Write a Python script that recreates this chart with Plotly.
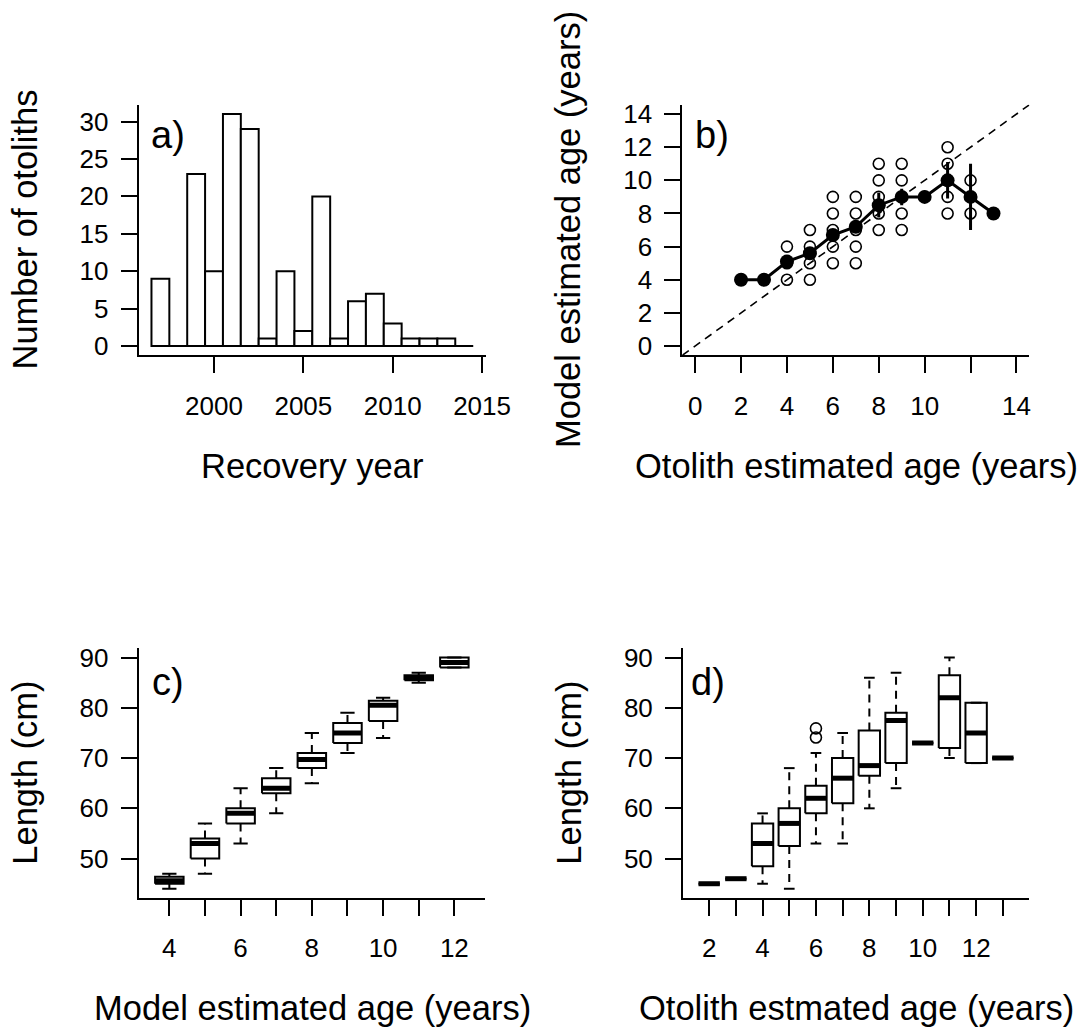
import plotly.graph_objects as go

W, H = 1081, 1028
FONT = "Liberation Sans, Arial, sans-serif"
TICK_SIZE = 26
TITLE_SIZE = 34.5
PANEL_SIZE = 38

# ---------------- a) recoveries per year ----------------
recovery_year = [1997, 1998, 1999, 2000, 2001, 2002, 2003, 2004, 2005,
                 2006, 2007, 2008, 2009, 2010, 2011, 2012, 2013, 2014]
otolith_count = [9, 0, 23, 10, 31, 29, 1, 10, 2, 20, 1, 6, 7, 3, 1, 1, 1, 0]

# ---------------- b) model vs otolith age ----------------
otolith_age = [2, 3, 4, 5, 6, 7, 8, 9, 10, 11, 12, 13]
model_mean = [4, 4, 5.1, 5.6, 6.7, 7.2, 8.5, 9, 9, 10, 9, 8]
model_err = [0, 0, 0.25, 0.3, 0.3, 0.35, 0.75, 0.5, 0, 1.1, 2.0, 0]
pair_otolith = [2, 3, 4, 4, 4, 5, 5, 5, 5, 6, 6, 6, 6, 6, 7, 7, 7, 7, 7,
                8, 8, 8, 8, 8, 9, 9, 9, 9, 9, 10, 11, 11, 11, 11, 11,
                12, 12, 12, 13]
pair_model = [4, 4, 4, 5, 6, 4, 5, 6, 7, 5, 6, 7, 8, 9, 5, 6, 7, 8, 9,
              7, 8, 9, 10, 11, 7, 8, 9, 10, 11, 9, 8, 9, 10, 11, 12,
              8, 9, 10, 8]

# ---------------- c) length by model age ----------------
c_age = [4, 5, 6, 7, 8, 9, 10, 11, 12]
c_lo = [44, 47, 53, 59, 65, 71, 74, 85, 88]
c_q1 = [45, 50, 57, 63, 68, 73, 77.4, 85.5, 88]
c_med = [45.6, 53, 59, 64, 69.7, 75, 80.5, 86, 89]
c_q3 = [46.4, 54, 60, 66, 71, 77, 81.4, 86.5, 90]
c_hi = [47, 57, 64, 68, 75, 79, 82, 87, 90]

# ---------------- d) length by otolith age ----------------
d_age = [2, 3, 4, 5, 6, 7, 8, 9, 10, 11, 12, 13]
d_lo = [45, 46, 45, 44, 53, 53, 60, 64, 73, 70, 69, 70]
d_q1 = [45, 46, 48.5, 52.5, 59, 61, 66.5, 69, 73, 72, 69, 70]
d_med = [45, 46, 53, 57, 62, 66, 68.5, 77.5, 73, 82, 75, 70]
d_q3 = [45, 46, 57, 60, 64.5, 70, 75.5, 79, 73, 86.5, 81, 70]
d_hi = [45, 46, 59, 68, 71, 75, 86, 87, 73, 90, 81, 70]
d_out_age = [6, 6]
d_out_len = [74.1, 75.9]


def px_x(p):
    return p / W


def px_y(p):
    return 1 - p / H


fig = go.Figure()

# ---- panel a: histogram as unit-width bars ----
fig.add_trace(go.Bar(
    x=recovery_year, y=otolith_count, width=1,
    marker=dict(color="white", line=dict(color="black", width=2)),
    xaxis="x", yaxis="y", showlegend=False))
fig.add_trace(go.Scatter(
    x=[recovery_year[0] - 0.5, recovery_year[-1] + 0.5], y=[0, 0],
    mode="lines", line=dict(color="black", width=2),
    xaxis="x", yaxis="y", showlegend=False))

# ---- panel b ----
b_range = [-0.56, 14.56]
fig.add_trace(go.Scatter(
    x=b_range, y=b_range, mode="lines",
    line=dict(color="black", width=1.6, dash="8px,6px"),
    xaxis="x2", yaxis="y2", showlegend=False))
fig.add_trace(go.Scatter(
    x=pair_otolith, y=pair_model, mode="markers",
    marker=dict(symbol="circle-open", size=11, color="black",
                line=dict(width=1.6, color="black")),
    xaxis="x2", yaxis="y2", showlegend=False))
fig.add_trace(go.Scatter(
    x=otolith_age, y=model_mean, mode="lines+markers",
    line=dict(color="black", width=3),
    marker=dict(symbol="circle", size=14, color="black"),
    error_y=dict(type="data", array=model_err, visible=True,
                 thickness=3, width=0, color="black"),
    xaxis="x2", yaxis="y2", showlegend=False))


# ---- boxplots drawn from summary statistics ----
def add_boxes(ages, lo, q1, med, q3, hi, xa, ya, half=0.4, staple=0.2):
    bx, by, mx, my, wx, wy, sx, sy = [], [], [], [], [], [], [], []
    for a, l, b1, m, b3, h in zip(ages, lo, q1, med, q3, hi):
        bx += [a - half, a + half, a + half, a - half, a - half, None]
        by += [b1, b1, b3, b3, b1, None]
        mx += [a - half, a + half, None]
        my += [m, m, None]
        wx += [a, a, None, a, a, None]
        wy += [b3, h, None, b1, l, None]
        sx += [a - staple, a + staple, None, a - staple, a + staple, None]
        sy += [h, h, None, l, l, None]
    common = dict(mode="lines", xaxis=xa, yaxis=ya, showlegend=False,
                  connectgaps=False)
    fig.add_trace(go.Scatter(x=wx, y=wy, line=dict(color="black", width=2,
                                                    dash="8px,6px"), **common))
    fig.add_trace(go.Scatter(x=sx, y=sy, line=dict(color="black", width=2),
                             **common))
    fig.add_trace(go.Scatter(x=bx, y=by, line=dict(color="black", width=2),
                             **common))
    fig.add_trace(go.Scatter(x=mx, y=my, line=dict(color="black", width=5),
                             **common))


add_boxes(c_age, c_lo, c_q1, c_med, c_q3, c_hi, "x3", "y3")
add_boxes(d_age, d_lo, d_q1, d_med, d_q3, d_hi, "x4", "y4")
fig.add_trace(go.Scatter(
    x=d_out_age, y=d_out_len, mode="markers",
    marker=dict(symbol="circle-open", size=11, color="black",
                line=dict(width=1.6, color="black")),
    xaxis="x4", yaxis="y4", showlegend=False))

# ---- axes ----
axis_common = dict(
    showline=True, linecolor="black", linewidth=2,
    ticks="outside", ticklen=16, tickwidth=2, tickcolor="black",
    showgrid=False, zeroline=False, automargin=False,
    tickfont=dict(family=FONT, size=TICK_SIZE, color="black"),
)
x_common = dict(axis_common, ticklabelstandoff=10)
y_common = dict(axis_common, ticklabelstandoff=7)

top = [px_y(355.3), px_y(104.8)]
bottom = [px_y(898), px_y(648.3)]

fig.update_layout(
    template="none",
    width=W, height=H, autosize=False,
    margin=dict(l=0, r=0, t=0, b=0, pad=0),
    paper_bgcolor="white", plot_bgcolor="white",
    font=dict(family=FONT, color="black"),
    showlegend=False,
    xaxis=dict(x_common, domain=[px_x(138.6), px_x(486)],
               range=[1995.78, 2015.22],
               tickvals=[2000, 2005, 2010, 2015], anchor="y"),
    yaxis=dict(y_common, domain=top, range=[-1.24, 32.24],
               tickvals=[0, 5, 10, 15, 20, 25, 30], anchor="x"),
    xaxis2=dict(x_common, domain=[px_x(682.3), px_x(1029.3)],
                range=b_range,
                tickvals=[0, 2, 4, 6, 8, 10, 12, 14],
                ticktext=["0", "2", "4", "6", "8", "10", "", "14"],
                anchor="y2"),
    yaxis2=dict(y_common, domain=top, range=b_range,
                tickvals=[0, 2, 4, 6, 8, 10, 12, 14], anchor="x2"),
    xaxis3=dict(x_common, domain=[px_x(138.7), px_x(485)],
                range=[3.14, 12.86], tickvals=c_age,
                ticktext=[str(a) if a % 2 == 0 else "" for a in c_age],
                anchor="y3"),
    yaxis3=dict(y_common, domain=bottom, range=[42.16, 91.84],
                tickvals=[50, 60, 70, 80, 90], anchor="x3"),
    xaxis4=dict(x_common, domain=[px_x(683), px_x(1029)],
                range=[1.02, 13.98], tickvals=d_age,
                ticktext=[str(a) if a % 2 == 0 else "" for a in d_age],
                anchor="y4"),
    yaxis4=dict(y_common, domain=bottom, range=[42.16, 91.84],
                tickvals=[50, 60, 70, 80, 90], anchor="x4"),
)


def label(text, x, y, size, angle=0, xanchor="center"):
    fig.add_annotation(
        text=text, x=px_x(x), y=px_y(y), xref="paper", yref="paper",
        showarrow=False, textangle=angle, xanchor=xanchor, yanchor="middle",
        font=dict(family=FONT, size=size, color="black"))


# panel tags
label("a)", 149, 135, PANEL_SIZE, xanchor="left")
label("b)", 693, 135, PANEL_SIZE, xanchor="left")
label("c)", 150, 682, PANEL_SIZE, xanchor="left")
label("d)", 689, 682, PANEL_SIZE, xanchor="left")

# axis titles
label("Recovery year", 312, 466, TITLE_SIZE)
label("Number of otoliths", 24.5, 230, TITLE_SIZE, angle=-90)
label("Otolith estimated age (years)", 856, 466, TITLE_SIZE)
label("Model estimated age (years)", 568, 230, TITLE_SIZE, angle=-90)
label("Model estimated age (years)", 312, 1008, TITLE_SIZE)
label("Length (cm)", 24.7, 773, TITLE_SIZE, angle=-90)
label("Otolith estmated age (years)", 856, 1008, TITLE_SIZE)
label("Length (cm)", 568.7, 773, TITLE_SIZE, angle=-90)

fig.write_html("out.html")
